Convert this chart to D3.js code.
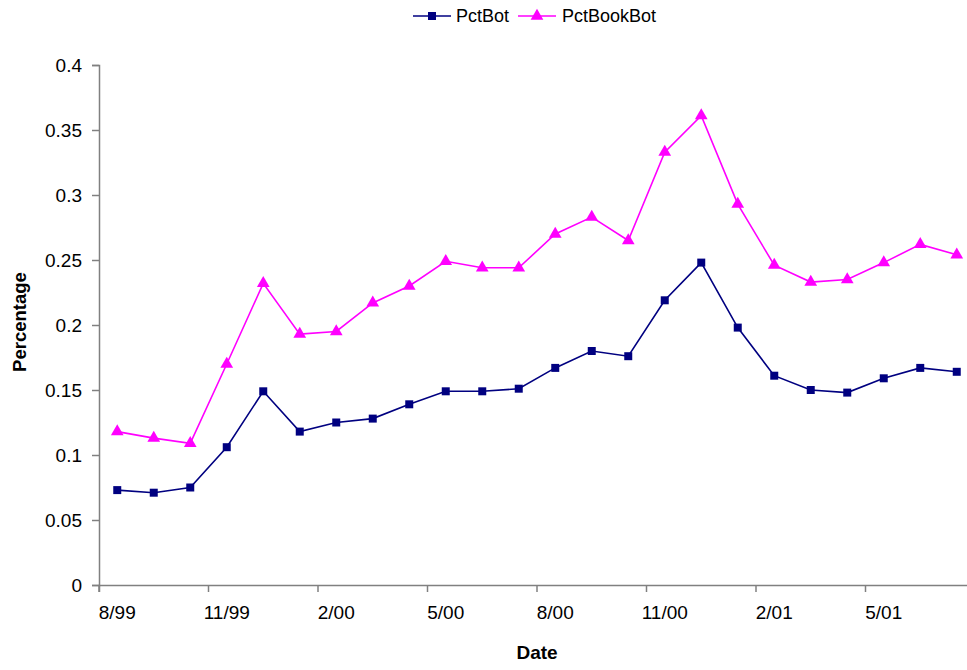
<!DOCTYPE html>
<html>
<head>
<meta charset="utf-8">
<script src="https://cdn.jsdelivr.net/npm/d3@7"></script>
<style>
  body { margin: 0; background: #fff; }
  text { font-family: "Liberation Sans", Arial, sans-serif; fill: #000; }
</style>
</head>
<body>
<div id="chart"></div>
<script>
// Chart constants
const WIDTH = 967;
const HEIGHT = 670;
const MARGIN = { left: 99, right: -8, top: 65, bottom: 85 };

// Data: one value per month, 8/99 .. 7/01
const months = ["8/99", "9/99", "10/99", "11/99", "12/99", "1/00", "2/00", "3/00",
  "4/00", "5/00", "6/00", "7/00", "8/00", "9/00", "10/00", "11/00", "12/00", "1/01",
  "2/01", "3/01", "4/01", "5/01", "6/01", "7/01"];
const pctBot = [0.073, 0.071, 0.075, 0.106, 0.149, 0.118, 0.125, 0.128, 0.139, 0.149,
  0.149, 0.151, 0.167, 0.180, 0.176, 0.219, 0.248, 0.198, 0.161, 0.150, 0.148, 0.159,
  0.167, 0.164];
const pctBookBot = [0.118, 0.113, 0.109, 0.170, 0.232, 0.193, 0.195, 0.217, 0.230, 0.249,
  0.244, 0.244, 0.270, 0.283, 0.265, 0.333, 0.361, 0.293, 0.246, 0.233, 0.235, 0.248,
  0.262, 0.254];
const xTickLabels = ["8/99", "11/99", "2/00", "5/00", "8/00", "11/00", "2/01", "5/01"];
const yTicks = [0, 0.05, 0.1, 0.15, 0.2, 0.25, 0.3, 0.35, 0.4];

const series = [
  { name: "PctBot", values: pctBot, color: "#000080", marker: d3.symbolSquare },
  { name: "PctBookBot", values: pctBookBot, color: "#FF00FF", marker: d3.symbolTriangle }
];

const svg = d3.select("#chart").append("svg")
  .attr("width", WIDTH)
  .attr("height", HEIGHT);

// Scales: each month is a band, points sit in the middle of it
const xScale = d3.scaleBand()
  .domain(months)
  .range([MARGIN.left, WIDTH - MARGIN.right]);
const yScale = d3.scaleLinear()
  .domain([0, 0.4])
  .range([HEIGHT - MARGIN.bottom, MARGIN.top]);
const xMid = (m) => xScale(m) + xScale.bandwidth() / 2;

// Y axis
const yAxis = d3.axisLeft(yScale)
  .tickValues(yTicks)
  .tickFormat(d3.format("~g"))
  .tickSizeOuter(0)
  .tickSize(7)
  .tickPadding(10);
const gy = svg.append("g")
  .attr("transform", `translate(${MARGIN.left},0)`)
  .call(yAxis);
gy.selectAll("text").style("font-size", "19px");

// X axis: ticks at month starts every 3 months, labels centred on the month
const xAxis = d3.axisBottom(xScale)
  .tickValues(xTickLabels)
  .tickSizeOuter(0)
  .tickSize(7)
  .tickPadding(14);
const gx = svg.append("g")
  .attr("transform", `translate(0,${HEIGHT - MARGIN.bottom})`)
  .call(xAxis);
gx.selectAll(".tick line")
  .attr("x1", -xScale.bandwidth() / 2)
  .attr("x2", -xScale.bandwidth() / 2);
gx.selectAll("text").style("font-size", "19px");

svg.selectAll(".domain, .tick line").attr("stroke", "#808080").attr("stroke-width", 1.5);

// Lines and markers
const line = d3.line()
  .x((d, i) => xMid(months[i]))
  .y((d) => yScale(d));

series.forEach((s) => {
  svg.append("path")
    .datum(s.values)
    .attr("fill", "none")
    .attr("stroke", s.color)
    .attr("stroke-width", 1.6)
    .attr("d", line);

  const size = s.marker === d3.symbolSquare ? 64 : 70;
  svg.append("g").selectAll("path")
    .data(s.values)
    .enter().append("path")
    .attr("d", d3.symbol().type(s.marker).size(size))
    .attr("transform", (d, i) => `translate(${xMid(months[i])},${yScale(d)})`)
    .attr("fill", s.color);
});

// Legend
const legendItems = [
  { x: 413, textX: 456 },
  { x: 518, textX: 562 }
];
series.forEach((s, i) => {
  const g = svg.append("g");
  const lx = legendItems[i].x;
  g.append("line")
    .attr("x1", lx).attr("x2", lx + 38)
    .attr("y1", 16).attr("y2", 16)
    .attr("stroke", s.color).attr("stroke-width", 1.6);
  g.append("path")
    .attr("d", d3.symbol().type(s.marker).size(s.marker === d3.symbolSquare ? 64 : 70))
    .attr("transform", `translate(${lx + 19},16)`)
    .attr("fill", s.color);
  g.append("text")
    .attr("x", legendItems[i].textX)
    .attr("y", 22)
    .style("font-size", "18px")
    .text(s.name);
});

// Axis titles
svg.append("text")
  .attr("x", 537)
  .attr("y", 659)
  .attr("text-anchor", "middle")
  .style("font-size", "19px")
  .style("font-weight", "bold")
  .text("Date");

svg.append("text")
  .attr("transform", "translate(26,322) rotate(-90)")
  .attr("text-anchor", "middle")
  .style("font-size", "18.5px")
  .style("font-weight", "bold")
  .text("Percentage");
</script>
</body>
</html>
